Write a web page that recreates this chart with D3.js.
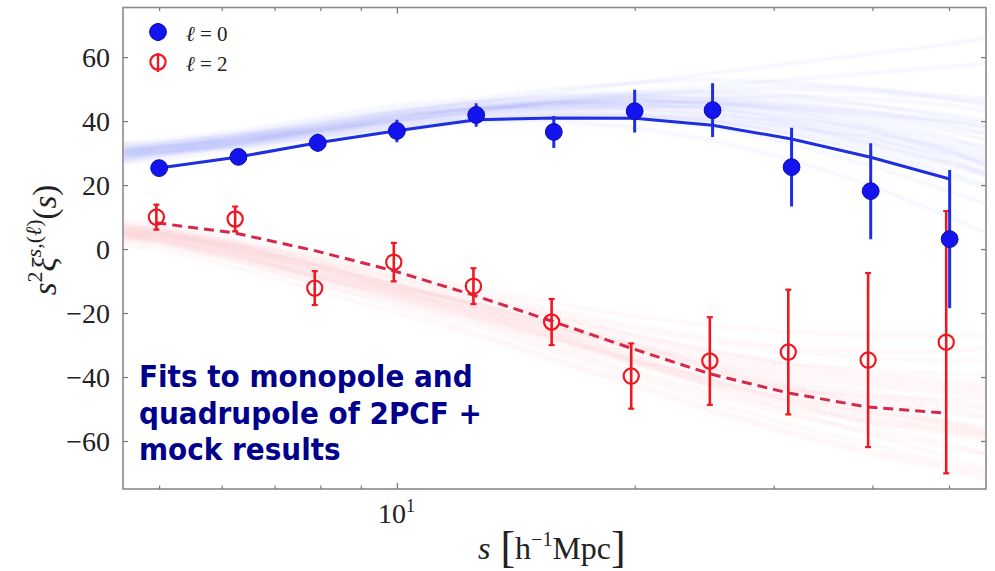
<!DOCTYPE html>
<html>
<head>
<meta charset="utf-8">
<script src="https://cdn.jsdelivr.net/npm/d3@7"></script>
<style>
  html, body { margin: 0; padding: 0; background: #ffffff; }
  svg { display: block; }
</style>
</head>
<body>
<svg id="chart" width="995" height="571"></svg>
<script>
// separation bins (h^-1 Mpc)
const sBins = [5.0, 6.3, 7.94, 10.0, 12.6, 15.8, 20.0, 25.1, 31.6, 39.8, 50.1];
const sBinsQuad = [4.96, 6.24, 7.87, 9.91, 12.5, 15.7, 19.8, 24.9, 31.3, 39.5, 49.6];

// monopole (l = 0) measurements and fit
const monoValues = [25.3, 28.8, 33.2, 36.9, 41.9, 36.6, 43.1, 43.4, 25.6, 18.1, 3.1];
const monoErrors = [2.0, 2.0, 2.8, 3.5, 3.7, 5.0, 6.7, 8.4, 12.3, 15.0, 21.6];
const monoFit = [25.3, 28.8, 33.2, 37.0, 40.4, 41.0, 40.9, 38.7, 34.4, 28.7, 21.9];

// quadrupole (l = 2) measurements and fit
const quadValues = [10.0, 9.4, -12.2, -4.1, -11.6, -22.8, -39.7, -35.0, -32.2, -34.7, -29.1];
const quadErrors = [3.9, 3.9, 5.3, 6.0, 5.6, 7.2, 10.2, 13.7, 19.5, 27.2, 41.0];
const quadFit = [8.2, 5.0, -0.5, -6.8, -14.4, -22.5, -31.0, -39.0, -45.0, -49.4, -51.3];

// mock catalogue grid and realisations
const sMock = [4.5, 5.0, 6.3, 7.94, 10.0, 12.6, 15.8, 20.0, 25.1, 31.6, 39.8, 50.1, 55.7];
const monoMocks = [
  [30,31,34,38,41,44,45,46,46,44,41,37,34],
  [28,29,32,35,38,40,41,41,40,37,32,26,23],
  [32,33,36,39,43,46,48,49,49,48,45,41,39],
  [29,30,33,36,40,42,44,43,41,38,33,27,24],
  [31,32,35,38,42,45,47,48,47,46,43,40,38],
  [27,28,31,34,37,40,42,42,40,36,30,23,19],
  [33,34,37,41,45,47,50,52,53,52,50,47,45],
  [30,30,33,37,40,43,44,45,44,41,37,31,28],
  [29,31,34,37,41,44,46,46,46,44,40,35,31],
  [31,32,34,37,40,42,43,42,40,36,31,24,20],
  [28,29,33,36,40,43,46,48,50,51,50,48,47],
  [32,32,35,39,42,45,46,47,45,42,37,30,27],
  [30,31,33,36,39,41,43,44,45,44,42,40,38],
  [29,30,34,38,42,44,45,44,42,39,34,29,26],
  [31,33,36,40,44,46,47,47,45,43,39,34,32],
  [30,31,35,37,40,43,45,47,48,47,45,42,40],
  [28,30,32,35,38,41,42,42,41,38,35,30,27],
  [33,33,36,40,43,45,46,45,43,39,33,27,23],
  [29,31,34,37,41,43,46,48,49,50,49,47,46],
  [31,31,34,38,41,44,44,44,42,40,36,32,29],
  [30,32,35,38,42,44,46,46,44,40,35,28,24],
  [27,29,32,36,39,42,44,45,46,45,43,39,36],
  [32,33,36,38,42,44,47,49,51,53,55,57,58],
  [29,30,33,36,39,41,42,41,38,33,26,18,14],
  [31,32,35,39,43,46,48,48,47,45,42,38,36],
  [30,31,33,37,40,43,45,46,47,48,47,45,43],
  [28,30,33,37,41,44,45,45,44,41,38,33,30],
  [31,32,34,37,41,44,46,47,46,43,38,31,26],
  [30,32,35,39,43,46,49,52,55,58,61,64,66],
  [29,30,32,35,38,40,40,38,34,28,20,10,5]
];
const quadMocks = [
  [5,4,-1,-7,-13,-19,-26,-33,-39,-44,-48,-51,-53],
  [7,6,1,-4,-10,-15,-21,-27,-32,-36,-39,-41,-42],
  [3,2,-3,-10,-16,-23,-31,-39,-46,-52,-57,-62,-64],
  [6,5,0,-6,-12,-17,-24,-30,-36,-41,-45,-48,-49],
  [4,3,-2,-8,-15,-21,-28,-36,-43,-49,-54,-58,-60],
  [8,7,2,-3,-9,-14,-20,-25,-29,-32,-34,-35,-35],
  [5,3,-2,-9,-14,-20,-27,-34,-41,-47,-52,-57,-59],
  [6,5,1,-5,-11,-18,-24,-31,-37,-42,-46,-49,-50],
  [2,1,-4,-11,-17,-24,-32,-40,-48,-55,-61,-67,-70],
  [7,5,0,-5,-12,-17,-23,-29,-34,-38,-41,-43,-44],
  [4,4,-1,-7,-14,-20,-27,-35,-41,-46,-51,-55,-57],
  [5,5,0,-6,-12,-18,-25,-31,-36,-40,-43,-45,-46],
  [6,4,-1,-8,-14,-21,-28,-35,-42,-48,-53,-56,-58],
  [3,3,-2,-8,-13,-19,-25,-30,-35,-39,-42,-44,-45],
  [5,4,0,-6,-12,-18,-26,-34,-41,-48,-55,-61,-64],
  [8,6,1,-5,-11,-16,-22,-28,-33,-37,-40,-42,-43],
  [4,3,-2,-9,-15,-22,-29,-36,-42,-47,-51,-54,-56],
  [6,6,1,-5,-11,-17,-23,-30,-37,-43,-49,-54,-57],
  [5,3,-3,-9,-16,-22,-30,-38,-45,-50,-54,-57,-58],
  [7,6,2,-4,-9,-15,-21,-27,-32,-36,-38,-39,-39],
  [4,4,-1,-6,-13,-19,-26,-32,-38,-43,-47,-50,-52],
  [6,5,0,-7,-13,-20,-27,-35,-43,-51,-58,-65,-69],
  [3,2,-3,-9,-15,-21,-28,-35,-40,-44,-46,-47,-47],
  [5,5,1,-5,-11,-17,-24,-31,-38,-44,-50,-55,-58],
  [9,8,3,-2,-7,-12,-17,-21,-24,-26,-27,-27,-27],
  [1,0,-6,-13,-20,-27,-35,-43,-51,-58,-64,-69,-72],
  [4,2,-4,-11,-18,-26,-34,-42,-50,-57,-63,-68,-71],
  [7,7,2,-3,-8,-13,-19,-24,-28,-31,-32,-32,-31]
];

// axis ticks
const yTicks = [-60, -40, -20, 0, 20, 40, 60];
const xMinorTicks = [5, 6, 7, 8, 9, 20, 30, 40, 50];
const xMajorTicks = [10];

const svg = d3.select("#chart");
const plotL = 123, plotR = 986, plotT = 7.5, plotB = 489;

const x = d3.scaleLog().domain([4.5, 55.7]).range([plotL, plotR]);
const y = d3.scaleLinear().domain([-75, 75.5]).range([plotB, plotT]);

const defs = svg.append("defs");
defs.append("clipPath").attr("id", "plotArea")
  .append("rect").attr("x", plotL).attr("y", plotT)
  .attr("width", plotR - plotL).attr("height", plotB - plotT);
defs.append("filter").attr("id", "soft")
  .attr("x", "-5%").attr("y", "-5%").attr("width", "110%").attr("height", "110%")
  .append("feGaussianBlur").attr("stdDeviation", 1.1);

const blue = "#1414ee";
const blueLine = "#1f2fe0";
const red = "#ec1822";
const redDash = "#d8284a";

const plot = svg.append("g").attr("clip-path", "url(#plotArea)");

// mock realisations
const mockLine = d3.line().x((d, i) => x(sMock[i])).y(d => y(d));
const mocks = plot.append("g").attr("filter", "url(#soft)");
mocks.selectAll("path.mono").data(monoMocks).join("path")
  .attr("class", "mono").attr("d", mockLine)
  .attr("fill", "none").attr("stroke", "#3b4ef0")
  .attr("stroke-width", 2).attr("stroke-opacity", 0.08);
mocks.selectAll("path.quad").data(quadMocks).join("path")
  .attr("class", "quad").attr("d", mockLine)
  .attr("fill", "none").attr("stroke", "#f04050")
  .attr("stroke-width", 2.2).attr("stroke-opacity", 0.06);

// best-fit models
const fitLine = (sArr) => d3.line().x((d, i) => x(sArr[i])).y(d => y(d));
plot.append("path").datum(monoFit).attr("d", fitLine(sBins))
  .attr("fill", "none").attr("stroke", blueLine).attr("stroke-width", 3);
plot.append("path").datum(quadFit).attr("d", fitLine(sBinsQuad))
  .attr("fill", "none").attr("stroke", redDash).attr("stroke-width", 3)
  .attr("stroke-dasharray", "10,6");

// quadrupole error bars and open markers
const quad = plot.append("g");
quadValues.forEach((v, i) => {
  const cx = x(sBinsQuad[i]);
  const y0 = y(v - quadErrors[i]), y1 = y(v + quadErrors[i]);
  quad.append("line").attr("x1", cx).attr("x2", cx).attr("y1", y0).attr("y2", y1)
    .attr("stroke", red).attr("stroke-width", 2.6);
  [y0, y1].forEach(yy => quad.append("line")
    .attr("x1", cx - 3).attr("x2", cx + 3).attr("y1", yy).attr("y2", yy)
    .attr("stroke", red).attr("stroke-width", 2.2));
  quad.append("circle").attr("cx", cx).attr("cy", y(v)).attr("r", 7.6)
    .attr("fill", "none").attr("stroke", red).attr("stroke-width", 2.2);
});

// monopole error bars and filled markers
const mono = plot.append("g");
monoValues.forEach((v, i) => {
  const cx = x(sBins[i]);
  mono.append("line").attr("x1", cx).attr("x2", cx)
    .attr("y1", y(v - monoErrors[i])).attr("y2", y(v + monoErrors[i]))
    .attr("stroke", blueLine).attr("stroke-width", 3);
  mono.append("circle").attr("cx", cx).attr("cy", y(v)).attr("r", 8.4)
    .attr("fill", blue).attr("stroke", "#0a0ab0").attr("stroke-width", 1);
});

// frame
svg.append("rect").attr("x", plotL).attr("y", plotT)
  .attr("width", plotR - plotL).attr("height", plotB - plotT)
  .attr("fill", "none").attr("stroke", "#8a8a8a").attr("stroke-width", 1.6);

const serif = "'Liberation Serif', 'DejaVu Serif', serif";

// y axes
const yAxis = svg.append("g").attr("transform", `translate(${plotL},0)`)
  .call(d3.axisLeft(y).tickValues(yTicks).tickSize(-5).tickPadding(13)
    .tickFormat(d => d < 0 ? "\u2212" + Math.abs(d) : String(d)));
yAxis.select(".domain").remove();
yAxis.selectAll(".tick line").attr("stroke", "#777").attr("stroke-width", 1.2);
yAxis.selectAll(".tick text").attr("font-family", serif).attr("font-size", 28)
  .attr("fill", "#222").attr("dy", "0.34em");

const yAxisR = svg.append("g").attr("transform", `translate(${plotR},0)`)
  .call(d3.axisRight(y).tickValues(yTicks).tickSize(-5).tickFormat(""));
yAxisR.select(".domain").remove();
yAxisR.selectAll(".tick line").attr("stroke", "#777").attr("stroke-width", 1.2);

// x axes: minor and major ticks at bottom and top
function xTicks(g, vals, size, orient) {
  const ax = (orient === "bottom" ? d3.axisBottom(x) : d3.axisTop(x))
    .tickValues(vals).tickSize(-size).tickFormat("");
  g.call(ax);
  g.select(".domain").remove();
  g.selectAll(".tick line").attr("stroke", "#777").attr("stroke-width", 1.2);
}
xTicks(svg.append("g").attr("transform", `translate(0,${plotB})`), xMinorTicks, 3.5, "bottom");
xTicks(svg.append("g").attr("transform", `translate(0,${plotB})`), xMajorTicks, 6, "bottom");
xTicks(svg.append("g").attr("transform", `translate(0,${plotT})`), xMinorTicks, 3.5, "top");
xTicks(svg.append("g").attr("transform", `translate(0,${plotT})`), xMajorTicks, 6, "top");

// 10^1 label
xMajorTicks.forEach(t => {
  const lbl = svg.append("text").attr("x", x(t) - 19).attr("y", 523)
    .attr("font-family", serif).attr("font-size", 28).attr("fill", "#222");
  lbl.append("tspan").text("10");
  lbl.append("tspan").attr("dy", -11).attr("font-size", 18).text(String(Math.round(Math.log10(t))));
});

// x axis title: s [h^-1 Mpc]
const xt = svg.append("text").attr("x", 478).attr("y", 559)
  .attr("font-family", serif).attr("font-size", 32).attr("fill", "#222");
xt.append("tspan").attr("font-style", "italic").text("s");
xt.append("tspan").attr("dx", 10).attr("font-size", 44).attr("dy", 3).text("[");
xt.append("tspan").attr("dy", -3).text("h");
xt.append("tspan").attr("dy", -13).attr("font-size", 20).text("\u22121");
xt.append("tspan").attr("dy", 13).text("Mpc");
xt.append("tspan").attr("font-size", 44).attr("dy", 3).text("]");

// y axis title: s^2 xi^{s,(l)}(s)
const yt = svg.append("text")
  .attr("transform", "translate(56,240) rotate(-90)")
  .attr("text-anchor", "middle")
  .attr("font-family", serif).attr("font-size", 33).attr("fill", "#222");
yt.append("tspan").attr("font-style", "italic").text("s");
yt.append("tspan").attr("dy", -14).attr("font-size", 22).text("2");
yt.append("tspan").attr("dy", 14).attr("font-style", "italic").text("\u03be");
yt.append("tspan").attr("dy", -15).attr("font-size", 22).attr("font-style", "italic").text("s");
yt.append("tspan").attr("font-size", 22).text(",(");
yt.append("tspan").attr("font-size", 22).attr("font-style", "italic").text("\u2113");
yt.append("tspan").attr("font-size", 22).text(")");
yt.append("tspan").attr("dy", 15).text("(");
yt.append("tspan").attr("font-style", "italic").text("s");
yt.append("tspan").text(")");

// legend
const legend = svg.append("g");
const legendItems = [
  { label: "0", cy: 32, filled: true },
  { label: "2", cy: 62, filled: false }
];
legendItems.forEach(d => {
  const cx = 158;
  if (d.filled) {
    legend.append("line").attr("x1", cx).attr("x2", cx).attr("y1", d.cy - 9).attr("y2", d.cy + 9)
      .attr("stroke", blueLine).attr("stroke-width", 3);
    legend.append("circle").attr("cx", cx).attr("cy", d.cy).attr("r", 8.4)
      .attr("fill", blue).attr("stroke", "#0a0ab0").attr("stroke-width", 1);
  } else {
    legend.append("line").attr("x1", cx).attr("x2", cx).attr("y1", d.cy - 9).attr("y2", d.cy + 10)
      .attr("stroke", red).attr("stroke-width", 2.4);
    legend.append("circle").attr("cx", cx).attr("cy", d.cy).attr("r", 7.6)
      .attr("fill", "none").attr("stroke", red).attr("stroke-width", 2.2);
  }
  const t = legend.append("text").attr("x", 186).attr("y", d.cy + 9)
    .attr("font-family", serif).attr("font-size", 21).attr("fill", "#222");
  t.append("tspan").attr("font-style", "italic").text("\u2113");
  t.append("tspan").text(" = " + d.label);
});

// annotation
const note = svg.append("text").attr("x", 139).attr("y", 387)
  .attr("font-family", "'DejaVu Sans Condensed', 'DejaVu Sans', sans-serif")
  .attr("font-stretch", "condensed")
  .attr("font-weight", "bold").attr("font-size", 31).attr("fill", "#00008c");
["Fits to monopole and", "quadrupole of 2PCF +", "mock results"].forEach((line, i) => {
  note.append("tspan").attr("x", 139).attr("dy", i === 0 ? 0 : 36.5).text(line);
});
</script>
</body>
</html>
